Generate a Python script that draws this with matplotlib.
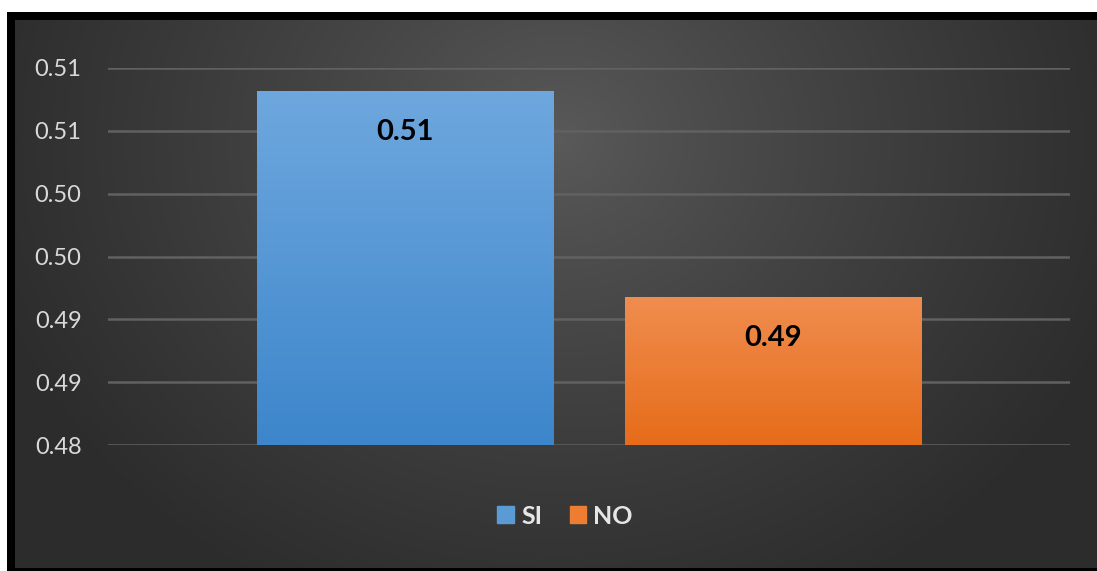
import numpy as np
import matplotlib.pyplot as plt
from matplotlib.patches import Rectangle

series = ['SI', 'NO']
values = [0.5082, 0.4918]
labels = ['0.51', '0.49']
tick_vals = [0.480, 0.485, 0.490, 0.495, 0.500, 0.505, 0.510]
tick_labels = ['0.48', '0.49', '0.49', '0.50', '0.50', '0.51', '0.51']
colors_top = ['#6ea7de', '#f08d4f']
colors_bot = ['#3d86cb', '#e66c1a']
legend_colors = ['#5b9bd5', '#ed7d31']

plt.rcParams['font.family'] = ['Lato', 'DejaVu Sans']

W, H = 1097, 571
fig = plt.figure(figsize=(W / 100, H / 100), dpi=100)
fig.patch.set_facecolor('white')


def fx(px):
    return px / W


def fy(py):
    return 1 - py / H


# black frame
frame = fig.add_axes([fx(7), 0, 1 - fx(7), fy(12)])
frame.set_facecolor('black')
frame.set_xticks([])
frame.set_yticks([])
for s in frame.spines.values():
    s.set_visible(False)

# radial gradient background
bg = fig.add_axes([fx(15), fy(568), 1 - fx(15), fy(20) - fy(568)])
xx, yy = np.meshgrid(np.linspace(15, W, 400), np.linspace(20, 568, 220))
r = np.sqrt(((xx - 560) / 600) ** 2 + ((yy - 140) / 520) ** 2)
r = np.clip(r, 0, 1)
c0, c1 = 0x5a / 255, 0x2c / 255
shade = c0 + (c1 - c0) * r ** 0.85
bg.imshow(np.dstack([shade, shade, shade]), aspect='auto', extent=[0, 1, 0, 1])
bg.set_xticks([])
bg.set_yticks([])
bg.set_xlim(0, 1)
bg.set_ylim(0, 1)
for s in bg.spines.values():
    s.set_visible(False)

# main chart
ax = fig.add_axes([fx(108), fy(445), fx(1070) - fx(108), fy(68) - fy(445)])
ax.patch.set_alpha(0)
ax.set_ylim(0.48, 0.51)
ax.set_xlim(0, 962)
ax.set_yticks(tick_vals)
ax.set_yticklabels(tick_labels, color='#d9d9d9', fontsize=17)
ax.tick_params(axis='y', length=0, pad=19)
ax.set_xticks([])
for s in ax.spines.values():
    s.set_visible(False)
ax.yaxis.grid(True, color='#616161', linewidth=1.8)
ax.set_axisbelow(True)

centers = [297, 665]
width = 297
bars = ax.bar(centers, [v - 0.48 for v in values], width, bottom=0.48,
              color=legend_colors, zorder=2)

for i, b in enumerate(bars):
    x0, y0 = b.get_x(), b.get_y()
    x1, y1 = x0 + b.get_width(), y0 + b.get_height()
    ct = np.array(plt.matplotlib.colors.to_rgb(colors_top[i]))
    cb = np.array(plt.matplotlib.colors.to_rgb(colors_bot[i]))
    t = np.linspace(0, 1, 100)[:, None]
    grad = (ct * (1 - t) + cb * t)[:, None, :]
    im = ax.imshow(grad, aspect='auto', extent=[x0, x1, y0, y1], zorder=3)
    im.set_clip_path(b)
    ax.text(centers[i], values[i] - 0.0033, labels[i], ha='center', va='center',
            fontsize=21, fontweight='bold', color='black', zorder=4)

ax.set_xlim(0, 962)
ax.set_ylim(0.48, 0.51)

handles = [Rectangle((0, 0), 1, 1, color=c) for c in legend_colors]
leg = fig.legend(handles, series, loc='center', bbox_to_anchor=(fx(565), fy(516)),
                 ncol=2, frameon=False, fontsize=18, handlelength=0.65,
                 handleheight=0.65, handletextpad=0.3, columnspacing=1.1)
for t in leg.get_texts():
    t.set_color('#e6e6e6')
    t.set_fontweight('bold')

fig.savefig('out.png', dpi=100)
